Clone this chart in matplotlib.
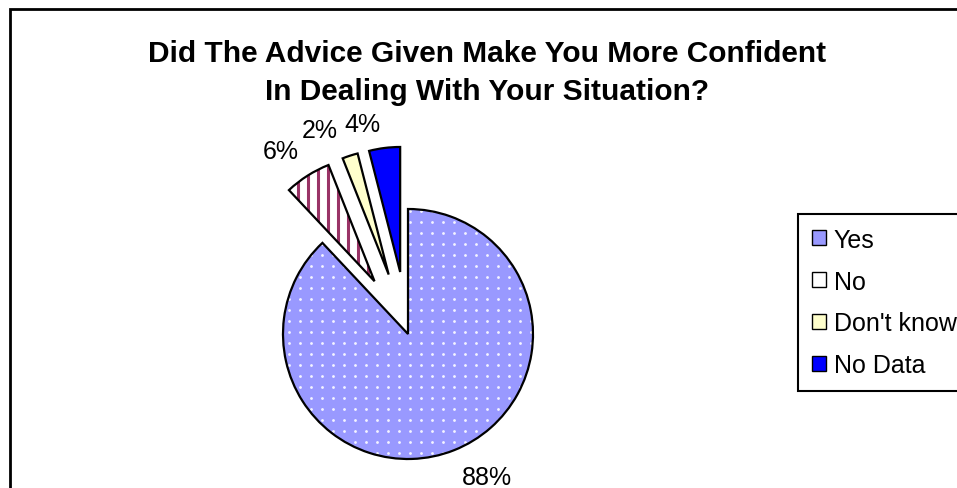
import numpy as np
import matplotlib.pyplot as plt
from matplotlib.patches import Patch, Rectangle

categories = ['Yes', 'No', "Don't know", 'No Data']
shares = [88, 6, 2, 4]
colors = ['#9999FF', '#FFFFFF', '#FFFFCC', '#0000FF']
explode = [0, 0.5, 0.5, 0.5]  # fraction of the radius

plt.rcParams['font.family'] = ['Liberation Sans', 'DejaVu Sans']

W, H = 957, 489
fig = plt.figure(figsize=(W / 100, H / 100), dpi=100)
ax = fig.add_axes([0, 0, 1, 1])

R = 125
C = (408, H - 335)
offsets = [e * R for e in explode]

# filled slices
wedges, _ = ax.pie(shares, explode=offsets, colors=colors, startangle=90,
                   counterclock=False, radius=R, center=C,
                   wedgeprops=dict(linewidth=0, zorder=1))
wedges[1].set_facecolor('none')

# white dot texture on the "Yes" slice
gx, gy = np.meshgrid(np.arange(C[0] - R - 5, C[0] + R + 5, 11),
                     np.arange(C[1] - R - 5, C[1] + R + 5, 11))
dots = ax.scatter(gx.ravel(), gy.ravel(), s=4, c='white', alpha=0.9,
                  linewidths=0, zorder=2)
dots.set_clip_path(wedges[0])

# purple vertical stripes on the "No" slice
stripes = ax.vlines(np.arange(C[0] - 2 * R, C[0], 10), 0, H,
                    colors='#993366', linewidth=2.2, zorder=0.5)
stripes.set_clip_path(wedges[1])

# outlines on top
ax.pie(shares, explode=offsets, startangle=90, counterclock=False,
       radius=R, center=C,
       wedgeprops=dict(facecolor='none', edgecolor='black', linewidth=1.6,
                       zorder=3))

# percentage labels
label_pos = [(487, 478), (281, 152), (320, 131), (362, 125)]
for v, (x, y) in zip(shares, label_pos):
    ax.text(x, H - y, f'{v}%', fontsize=18, ha='center', va='center')

ax.text(487, H - 62, 'Did The Advice Given Make You More Confident',
        fontsize=21.5, fontweight='bold', ha='center', va='baseline')
ax.text(487, H - 100, 'In Dealing With Your Situation?',
        fontsize=21.5, fontweight='bold', ha='center', va='baseline')

# chart border
ax.add_patch(Rectangle((10, -20), 1000, H - 10 + 20, fill=False,
                       edgecolor='black', linewidth=2))

ax.set_xlim(0, W)
ax.set_ylim(0, H)
ax.axis('off')

handles = [Patch(facecolor=c, edgecolor='black', linewidth=1) for c in colors]
leg = ax.legend(handles, categories, loc='upper left',
                bbox_to_anchor=(798 / W, 1 - 215 / H),
                bbox_transform=fig.transFigure, borderaxespad=0,
                fontsize=18, handlelength=0.55, handleheight=0.55,
                handletextpad=0.32, labelspacing=0.71, borderpad=0.55,
                fancybox=False, framealpha=1)
leg.get_frame().set_edgecolor('black')
leg.get_frame().set_linewidth(1.5)

fig.savefig('out.png', dpi=100)
